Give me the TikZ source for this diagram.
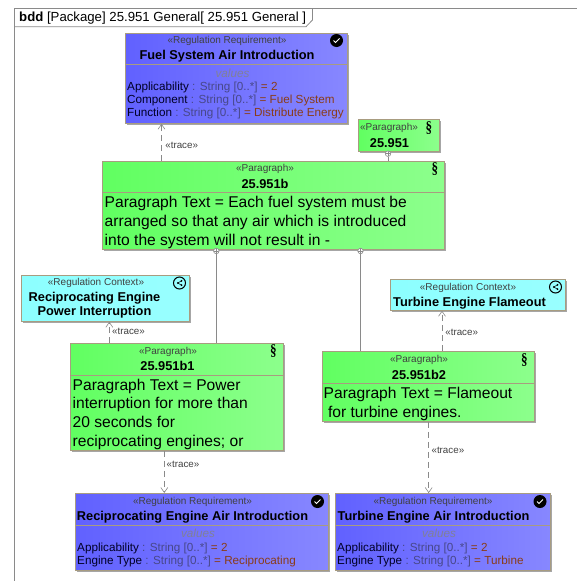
\documentclass[tikz,border=0pt]{standalone}
\usepackage{fontspec}
\usepackage{graphicx}
\setmainfont{Liberation Sans}
\newfontfamily\serifsec{Liberation Serif}
\usetikzlibrary{arrows.meta,shadows}

\definecolor{frameline}{HTML}{8A8A8A}
\definecolor{boxline}{HTML}{A89C80}
\definecolor{typegray}{HTML}{48488A}
\definecolor{valuebrown}{HTML}{8A3C18}
\definecolor{valgray}{HTML}{808098}

\newcommand{\attr}[3]{{\color{black!85!blue}#1} {\color{typegray}: String [0..*]} {\color{valuebrown}= #3}}
\newcommand{\secmark}{\scalebox{0.82}[1]{§}}

\tikzset{
  every node/.style={inner sep=0pt},
  umlbox/.style={draw=boxline,line width=0.8pt,rectangle,anchor=north west,copy shadow={shadow xshift=1.2pt,shadow yshift=-1.2pt,draw=none,fill=black!35}},
  reqbox/.style={umlbox,left color=blue!62!white,right color=blue!47!white},
  parabox/.style={umlbox,left color=green!62!white,right color=green!45!white},
  ctxbox/.style={umlbox,left color=cyan!45!white,right color=cyan!40!white},
  stereo/.style={font=\fontsize{10}{12}\selectfont,text=black!75,yshift=-0.7pt},
  title/.style={font=\fontsize{12.8}{14.6}\selectfont\bfseries,align=center,yshift=-0.8pt},
  partext/.style={font=\fontsize{15.6}{18.8}\selectfont,align=left,anchor=north west},
  attrs/.style={font=\fontsize{11.7}{13}\selectfont,align=left,anchor=north west},
  valhead/.style={font=\fontsize{11.7}{13}\selectfont\itshape,text=valgray},
  tracelabel/.style={font=\fontsize{9.8}{11}\selectfont,text=black!75,anchor=west},
  tracearrow/.style={draw=frameline,line width=0.7pt,dash pattern=on 6pt off 4pt,-{Straight Barb[length=5pt,width=7pt,line width=0.6pt]}},
  ownline/.style={draw=frameline,line width=0.8pt},
  ownmark/.style={circle,draw=frameline,fill=white,line width=0.6pt,minimum size=5.5pt,path picture={\draw[frameline,line width=0.5pt] (path picture bounding box.north) -- (path picture bounding box.south) (path picture bounding box.west) -- (path picture bounding box.east);}},
  checkicon/.style={circle,fill=black,minimum size=13pt,path picture={\draw[white,line width=1pt] ([shift={(-3pt,0pt)}]path picture bounding box.center) -- ([shift={(-1pt,-2pt)}]path picture bounding box.center) -- ([shift={(3pt,2pt)}]path picture bounding box.center);}},
  ctxicon/.style={circle,draw=black,fill=none,line width=1pt,minimum size=12pt,path picture={\fill (path picture bounding box.center) ++(2pt,2.2pt) circle (1pt) ++(-3.6pt,-2.2pt) circle (1pt) ++(3.6pt,-2.2pt) circle (1pt); \draw[line width=0.5pt] (path picture bounding box.center) ++(2pt,2.2pt) -- ++(-3.6pt,-2.2pt) -- ++(3.6pt,-2.2pt);}},
  secicon/.style={font=\fontsize{16}{16}\selectfont\serifsec\bfseries}
}

\begin{document}
\begin{tikzpicture}[x=1pt,y=-1pt]
\useasboundingbox (0,0) rectangle (577,581);
% frame
\draw [frameline,line width=0.8pt] (14.5,581) -- (14.5,8.3) -- (577,8.3);
\draw [frameline,line width=0.8pt] (14.5,26.7) -- (306,26.7) -- (312.5,20) -- (312.5,8.3);
\node [anchor=west,font=\fontsize{13.2}{15}\selectfont] (frametitle) at (19,18) {\textbf{bdd} [Package] 25.951 General[ 25.951 General ]};

% requirements
\node [reqbox,minimum width=222pt,minimum height=90pt] (fuelreq) at (125,33) {};
\draw [boxline] (125,64.3) -- (347,64.3);
\node [stereo] (fuelst) at (227,40.3) {«Regulation Requirement»};
\node [title] (fuelname) at (227,55.7) {Fuel System Air Introduction};
\node [valhead] (fuelval) at (232.5,73) {values};
\node [attrs] (fuelattr) at (127,82) {\attr{Applicability}{}{2}\\\attr{Component}{}{Fuel System}\\\attr{Function}{}{Distribute Energy}};
\node [checkicon] (fuelchk) at (336.5,40.5) {};

\node [reqbox,minimum width=253pt,minimum height=77pt] (rereq) at (75,493) {};
\draw [boxline] (75,525) -- (328,525);
\node [stereo] (rest) at (192.5,501) {«Regulation Requirement»};
\node [title] (rename) at (192.5,516) {Reciprocating Engine Air Introduction};
\node [valhead] (reval) at (198,533.7) {values};
\node [attrs] (reattr) at (77,542.5) {\attr{Applicability}{}{2}\\\attr{Engine Type}{}{Reciprocating}};
\node [checkicon] (rechk) at (317.5,501.5) {};

\node [reqbox,minimum width=215pt,minimum height=77pt] (tereq) at (335,493) {};
\draw [boxline] (335,525) -- (550,525);
\node [stereo] (test) at (433,501) {«Regulation Requirement»};
\node [title] (tename) at (433.5,516) {Turbine Engine Air Introduction};
\node [valhead] (teval) at (439,533.7) {values};
\node [attrs] (teattr) at (337,542.5) {\attr{Applicability}{}{2}\\\attr{Engine Type}{}{Turbine}};
\node [checkicon] (techk) at (540,501.5) {};

% contexts
\node [ctxbox,minimum width=168pt,minimum height=46pt] (rectx) at (21,275) {};
\node [stereo] (rectxst) at (96,282) {«Regulation Context»};
\node [title] (rectxname) at (94.5,304.5) {Reciprocating Engine\\Power Interruption};
\node [ctxicon] (rectxic) at (179.5,283) {};

\node [ctxbox,minimum width=175pt,minimum height=31pt] (tectx) at (390,279) {};
\node [stereo] (tectxst) at (468,287) {«Regulation Context»};
\node [title] (tectxname) at (469.5,302) {Turbine Engine Flameout};
\node [ctxicon] (tectxic) at (555.5,287) {};

% paragraphs
\node [parabox,minimum width=81pt,minimum height=32pt] (parroot) at (358,119) {};
\node [stereo] (parrootst) at (389,127) {«Paragraph»};
\node [title] (parrootname) at (389.5,142.5) {25.951};
\node [secicon] (parrootsec) at (429,127.7) {\secmark};

\node [parabox,minimum width=342pt,minimum height=88pt] (parb) at (102,161) {};
\draw [boxline] (102,192.3) -- (444,192.3);
\node [stereo] (parbst) at (265,168) {«Paragraph»};
\node [title] (parbname) at (265,183) {25.951b};
\node [secicon] (parbsec) at (435,169) {\secmark};
\node [partext] (parbtext) at (104.5,196) {Paragraph Text = Each fuel system must be\\arranged so that any air which is introduced\\into the system will not result in -};

\node [parabox,minimum width=213pt,minimum height=107pt] (parbone) at (70,343) {};
\draw [boxline] (70,375) -- (283,375);
\node [stereo] (parbonest) at (168,351) {«Paragraph»};
\node [title] (parbonename) at (167.5,365.5) {25.951b1};
\node [secicon] (parbonesec) at (273.3,351) {\secmark};
\node [partext] (parbonetext) at (72.5,378.5) {Paragraph Text = Power\\interruption for more than\\20 seconds for\\reciprocating engines; or};

\node [parabox,minimum width=212pt,minimum height=70pt] (parbtwo) at (322,351) {};
\draw [boxline] (322,383) -- (534,383);
\node [stereo] (parbtwost) at (419,359) {«Paragraph»};
\node [title] (parbtwoname) at (419,374.5) {25.951b2};
\node [secicon] (parbtwosec) at (524.3,360) {\secmark};
\node [partext] (parbtwotext) at (323.5,387) {Paragraph Text = Flameout\\ \ for turbine engines.};

% containment
\node [ownmark] (ownroot) at (388,153.7) {};
\node [ownmark] (ownone) at (216.3,251) {};
\node [ownmark] (owntwo) at (360.5,251) {};
\draw [ownline] (ownroot) -- (ownroot |- parb.north);
\draw [ownline] (ownone) -- (ownone |- parbone.north);
\draw [ownline] (owntwo) -- (owntwo |- parbtwo.north);

% trace
\coordinate (tr1) at (161.5,0);
\coordinate (tr2) at (109.3,0);
\coordinate (tr3) at (164.3,0);
\coordinate (tr4) at (442,0);
\coordinate (tr5) at (428.7,0);
\draw [tracearrow] (parb.north -| tr1) -- (fuelreq.south -| tr1) node [tracelabel,pos=0.42,xshift=3.5pt] (trlabelone) {«trace»};
\draw [tracearrow] (parbone.north -| tr2) -- (rectx.south -| tr2) node [tracelabel,pos=0.53,xshift=2.5pt] (trlabeltwo) {«trace»};
\draw [tracearrow] (parbone.south -| tr3) -- (rereq.north -| tr3) node [tracelabel,pos=0.33,xshift=2pt] (trlabelthree) {«trace»};
\draw [tracearrow] (parbtwo.north -| tr4) -- (tectx.south -| tr4) node [tracelabel,pos=0.46,xshift=3pt] (trlabelfour) {«trace»};
\draw [tracearrow] (parbtwo.south -| tr5) -- (tereq.north -| tr5) node [tracelabel,pos=0.4,xshift=2.5pt] (trlabelfive) {«trace»};
\end{tikzpicture}
\end{document}
